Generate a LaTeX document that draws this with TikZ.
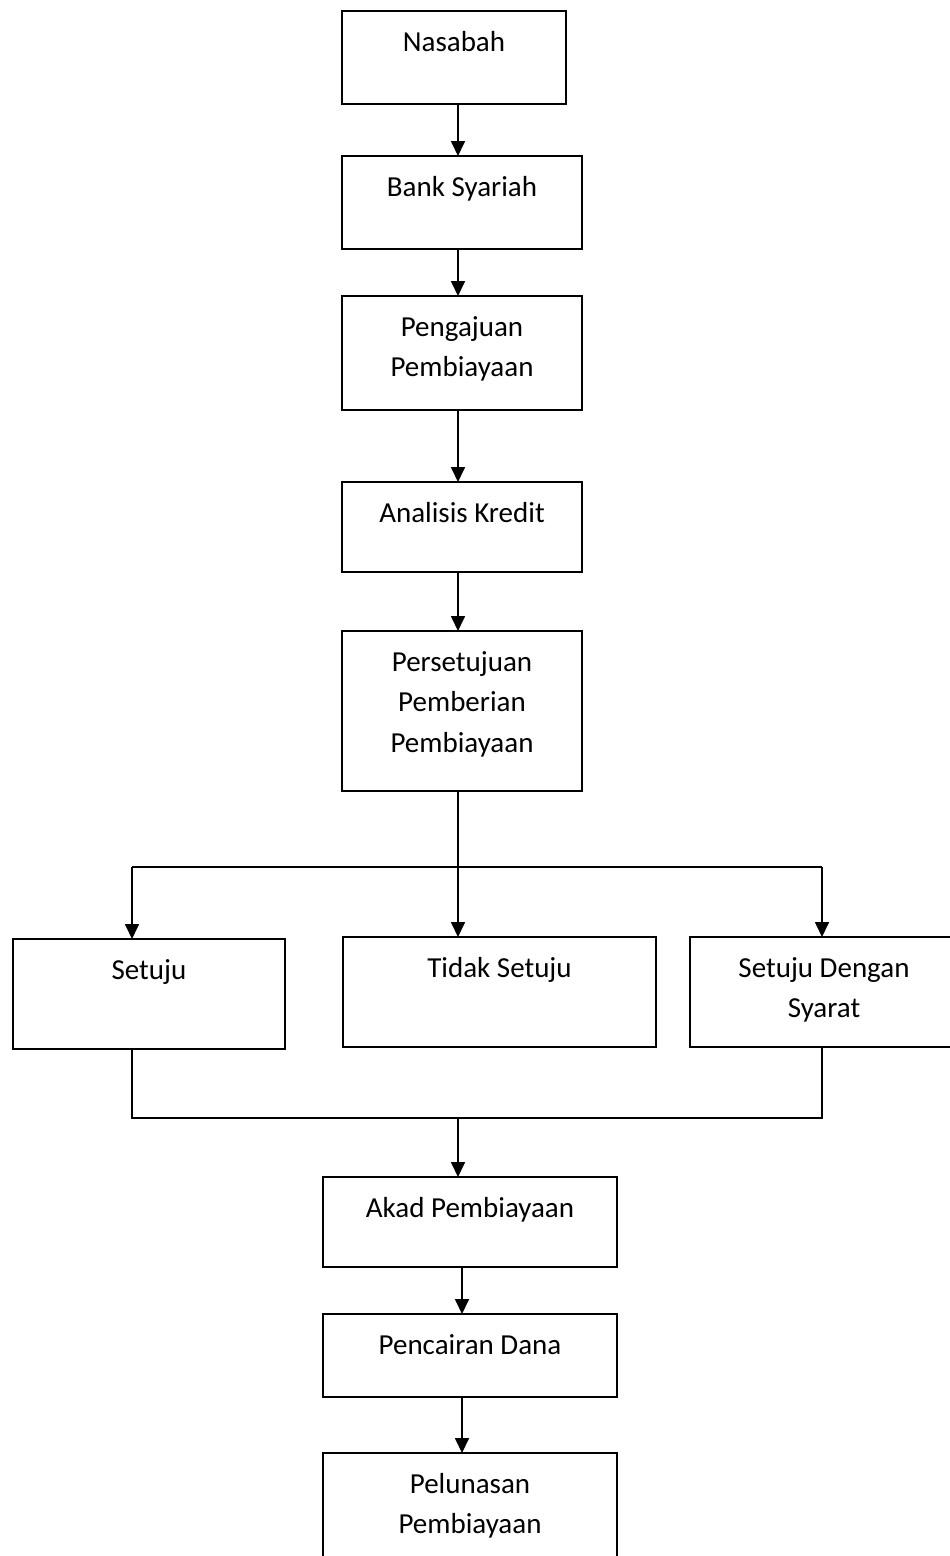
\documentclass[tikz,border=0pt]{standalone}
\usepackage{fontspec}
\setmainfont{Carlito}
\usepackage{tikz}
\usetikzlibrary{arrows.meta}
\usetikzlibrary{positioning}
\usetikzlibrary{calc}
\tikzstyle{box} = [rectangle, draw=black, line width=1.8pt, inner sep=0pt, outer sep=0pt, font=\fontsize{29}{40.5}\selectfont]
\tikzstyle{arrow} = [line width=1.7pt, -{Triangle[width=14pt,length=15pt]}, black]
\tikzstyle{link} = [line width=1.7pt, black]
\newcommand{\boxtext}[3]{\parbox[c][#2pt][t]{#1pt}{\centering\rule{0pt}{40pt}#3}}

\begin{document}
\begin{tikzpicture}[x=1pt, y=-1pt]
    \useasboundingbox (0,0) rectangle (950,1556);
    \fill[white] (0,0) rectangle (950,1556);
    \clip (0,0) rectangle (950,1556);
    % main chain
    \node (nasabah) [box, anchor=north west] at (342,11) {\boxtext{224}{93}{Nasabah}};
    \node (bank) [box, below=52pt of nasabah.south west, anchor=north west] {\boxtext{240}{93}{Bank Syariah}};
    \node (pengajuan) [box, below=47pt of bank.south west, anchor=north west] {\boxtext{240}{114}{Pengajuan\\Pembiayaan}};
    \node (analisis) [box, below=72pt of pengajuan.south west, anchor=north west] {\boxtext{240}{90}{Analisis Kredit}};
    \node (persetujuan) [box, below=59pt of analisis.south west, anchor=north west] {\boxtext{240}{160}{Persetujuan\\Pemberian\\Pembiayaan}};
    % decisions
    \node (tidak) [box, below=146pt of persetujuan.south west, anchor=north west, xshift=1pt] {\boxtext{313}{110}{Tidak Setuju}};
    \node (setuju) [box, left=58pt of tidak.north west, anchor=north east, yshift=-2pt] {\boxtext{272}{110}{Setuju}};
    \node (syarat) [box, right=34pt of tidak.north east, anchor=north west] {\boxtext{268}{110}{Setuju Dengan\\Syarat}};
    % after approval
    \node (akad) [box, below=130pt of tidak.south west, anchor=north west, xshift=-20pt] {\boxtext{294}{90}{Akad Pembiayaan}};
    \node (pencairan) [box, below=47pt of akad.south west, anchor=north west] {\boxtext{294}{83}{Pencairan Dana}};
    \node (pelunasan) [box, below=56pt of pencairan.south west, anchor=north west] {\boxtext{294}{114}{Pelunasan\\Pembiayaan}};

    \coordinate (spine) at (458,0);
    \coordinate (spinelow) at (462,0);
    \coordinate (leftx) at (132,0);
    \coordinate (rightx) at (822,0);
    \draw [arrow] (nasabah.south -| spine) -- (bank.north -| spine);
    \draw [arrow] (bank.south -| spine) -- (pengajuan.north -| spine);
    \draw [arrow] (pengajuan.south -| spine) -- (analisis.north -| spine);
    \draw [arrow] (analisis.south -| spine) -- (persetujuan.north -| spine);
    \draw [arrow] (persetujuan.south -| spine) -- (tidak.north -| spine);
    % split into three
    \coordinate (split) at ($(persetujuan.south -| spine) + (0,76)$);
    \draw [link] (split -| leftx) -- (split -| rightx);
    \draw [arrow] (split -| leftx) -- (setuju.north -| leftx);
    \draw [arrow] (split -| rightx) -- (syarat.north -| rightx);
    % join again
    \coordinate (join) at ($(setuju.south -| spine) + (0,69)$);
    \draw [link] (setuju.south -| leftx) |- (join -| rightx) -- (syarat.south -| rightx);
    \draw [arrow] (join) -- (akad.north -| spine);
    \draw [arrow] (akad.south -| spinelow) -- (pencairan.north -| spinelow);
    \draw [arrow] (pencairan.south -| spinelow) -- (pelunasan.north -| spinelow);
\end{tikzpicture}
\end{document}
